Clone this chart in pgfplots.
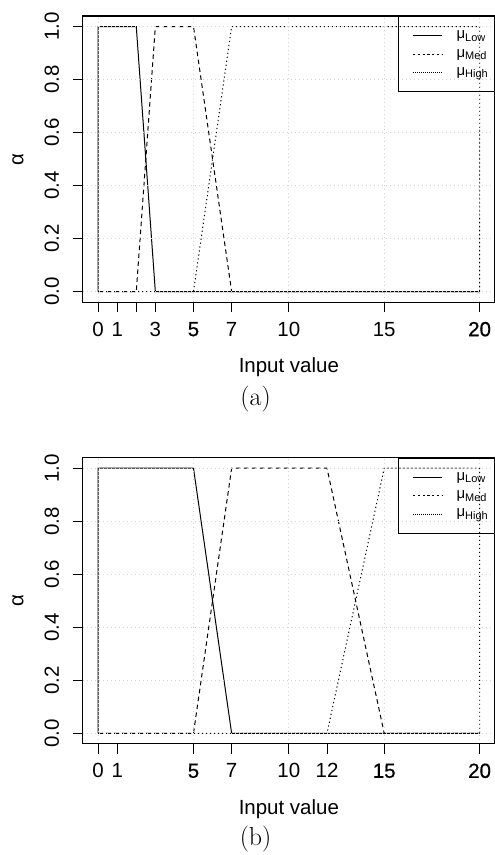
\documentclass[border=0pt]{standalone}
\usepackage{fontspec}
\usepackage{pgfplots}
\pgfplotsset{compat=1.18}
\newfontfamily\arial{Liberation Sans}
\newfontfamily\arialfb{Liberation Sans}[FakeBold=0.7]
\newcommand\tickfont{\arial\fontsize{20.5bp}{24bp}\selectfont}
\newcommand\bd[1]{{\arialfb #1}}
\newcommand\mulab[1]{{\arial\fontsize{15bp}{16bp}\selectfont μ}\raisebox{-2.5bp}{\arial\fontsize{11bp}{12bp}\selectfont #1}}
\newcommand\capfont{\fontsize{26bp}{30bp}\selectfont}
\definecolor{rlightgray}{HTML}{D3D3D3}
\pgfplotsset{
 fuzzy/.style={
  scale only axis, width=412.6bp, height=286.7bp, anchor=south west,
  xmin=-0.8, xmax=20.8, ymin=-0.04, ymax=1.04,
  axis on top,
  xtick pos=left, ytick pos=left,
  ytick={0,0.2,0.4,0.6,0.8,1}, yticklabels={0.0,0.2,0.4,0.6,0.8,1.0},
  xtick={0,5,10,15,20},
  extra x tick style={grid=none},
  grid=major,
  major grid style={rlightgray, dash pattern=on 1bp off 3bp, line width=0.8bp},
  tick align=outside, major tick length=10bp,
  tick style={black, line width=0.9bp},
  axis line style={black, line width=1.1bp},
  tick label style={font=\tickfont},
  xticklabel style={anchor=center, yshift=-17bp},
  yticklabel style={rotate=90, anchor=center, yshift=21bp},
  xlabel={Input value}, ylabel={α},
  label style={font=\tickfont},
  xlabel style={at={(axis description cs:0.5,-0.2267)}, anchor=center},
  ylabel style={at={(axis description cs:-0.1575,0.5)}, anchor=center},
  legend style={at={(rel axis cs:0.7642,1)}, anchor=north west, draw=black, line width=0.9bp, fill=none,
    inner xsep=14.4bp, inner ysep=10.2bp, row sep=0pt, column sep=14.3bp,
    cells={anchor=west}, nodes={inner sep=0pt, text height=12.15bp, text depth=6.15bp}},
  legend image code/.code={\draw[##1] (0bp,0bp) -- (29bp,0bp);},
 },
 lowst/.style={black, line width=1bp},
 medst/.style={black, line width=1bp, dash pattern=on 4.5bp off 3.5bp},
 highst/.style={black, line width=1bp, dash pattern=on 1.2bp off 2.8bp},
}
\begin{document}
\begin{tikzpicture}[trim left=0bp, trim right=495bp]
\path[draw=none] (0,0) rectangle (495bp,855bp);
\begin{axis}[fuzzy, at={(83bp,552.3bp)},
  xticklabels={0,\bd{5},10,15,\bd{20}},
  extra x ticks={1,2,3,7}, extra x tick labels={1,{},3,7}]
\addplot[lowst, forget plot] coordinates {(0,0) (0,1) (2,1) (3,0) (20,0)};
\addplot[medst, forget plot] coordinates {(0,0) (2,0) (3,1) (5,1) (7,0) (20,0)};
\addplot[highst, forget plot] coordinates {(0,0) (5,0) (7,1) (20,1) (20,0)};
\addlegendimage{black, line width=0.8bp}
\addlegendentry{\mulab{Low}}
\addlegendimage{black, line width=0.8bp, dash pattern=on 2.4bp off 2.4bp}
\addlegendentry{\mulab{Med}}
\addlegendimage{black, line width=0.6bp, dash pattern=on 0.8bp off 1.2bp}
\addlegendentry{\mulab{High}}
\end{axis}
\begin{axis}[fuzzy, at={(83bp,110bp)},
  xticklabels={0,\bd{5},10,\bd{15},\bd{20}},
  extra x ticks={1,7,12}, extra x tick labels={1,7,12}]
\addplot[lowst, forget plot] coordinates {(0,0) (0,1) (5,1) (7,0) (20,0)};
\addplot[medst, forget plot] coordinates {(0,0) (5,0) (7,1) (12,1) (15,0) (20,0)};
\addplot[highst, forget plot] coordinates {(0,0) (12,0) (15,1) (20,1) (20,0)};
\addlegendimage{black, line width=0.8bp}
\addlegendentry{\mulab{Low}}
\addlegendimage{black, line width=0.8bp, dash pattern=on 2.4bp off 2.4bp}
\addlegendentry{\mulab{Med}}
\addlegendimage{black, line width=0.6bp, dash pattern=on 0.8bp off 1.2bp}
\addlegendentry{\mulab{High}}
\end{axis}
\node[font=\capfont] at (256bp,455.7bp) {(a)};
\node[font=\capfont] at (256bp,15bp) {(b)};
\end{tikzpicture}
\end{document}
